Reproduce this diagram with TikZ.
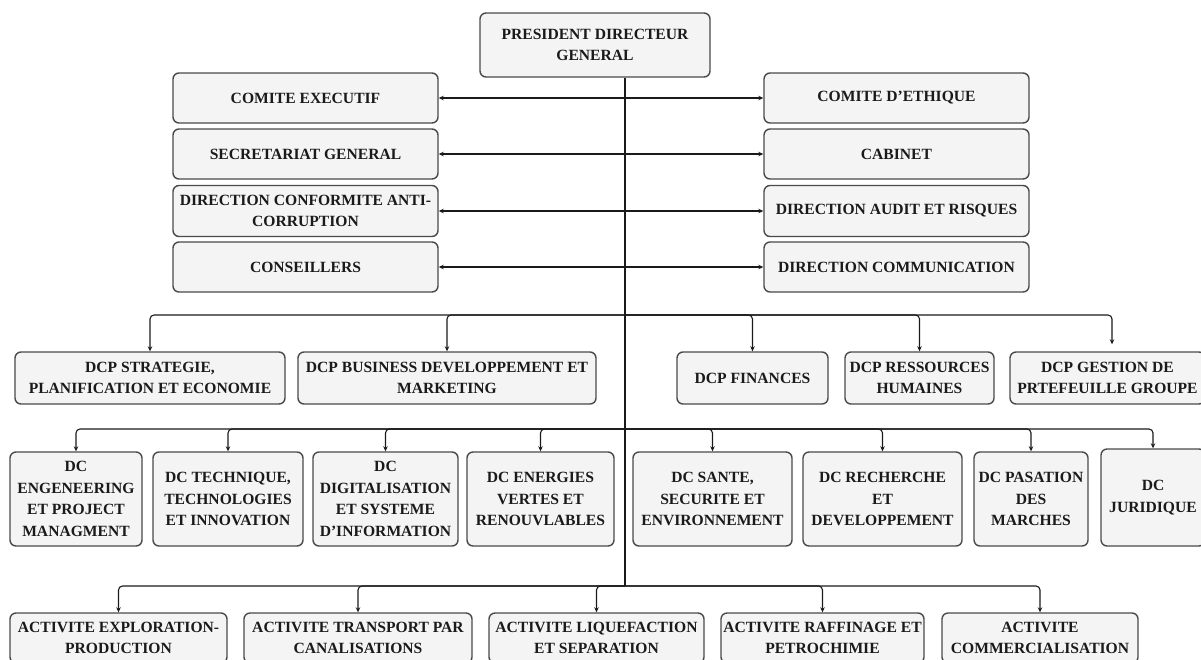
\documentclass[tikz,border=0pt]{standalone}
\usepackage{fontspec}
\setmainfont{Liberation Serif}
\usetikzlibrary{arrows.meta}
\definecolor{boxfill}{HTML}{F4F4F4}
\definecolor{boxline}{HTML}{4A4A4A}
\definecolor{ink}{HTML}{1A1A1A}
\begin{document}
\begin{tikzpicture}[x=1pt,y=-1pt,
  orgbox/.style={draw=boxline, fill=boxfill, line width=1.4pt, rounded corners=6pt,
    inner sep=0pt, align=center, text=ink,
    font=\bfseries\fontsize{15.6}{21.5}\selectfont},
  link/.style={draw=ink, line width=1.1pt, -{Stealth[length=5pt,width=4.5pt]}},
  drop/.style={link, rounded corners=4pt},
  biarrow/.style={draw=ink, line width=1.1pt,
    {Stealth[length=5pt,width=4.5pt]}-{Stealth[length=5pt,width=4.5pt]}},
  trunkline/.style={draw=ink, line width=1.1pt}]
\useasboundingbox (0,0) rectangle (1201,659);
% \orgnode{name}{cx}{cy}{width}{height}{text}
\newcommand\orgnode[6]{\node[orgbox, minimum width=#4pt, minimum height=#5pt] (#1) at (#2,#3) {#6};}

% top
\orgnode{pdg}{595}{45}{230}{64}{PRESIDENT DIRECTEUR\\GENERAL}

% staff bodies, left and right
\orgnode{l1}{305.5}{98}{265}{50}{COMITE EXECUTIF}
\orgnode{l2}{305.5}{154}{265}{50}{SECRETARIAT GENERAL}
\orgnode{l3}{305.5}{211}{265}{51}{DIRECTION CONFORMITE ANTI-\\CORRUPTION}
\orgnode{l4}{305.5}{267}{265}{50}{CONSEILLERS}
\orgnode{r1}{896.5}{98}{265}{50}{COMITE D'ETHIQUE}
\orgnode{r2}{896.5}{154}{265}{50}{CABINET}
\orgnode{r3}{896.5}{211}{265}{51}{DIRECTION AUDIT ET RISQUES}
\orgnode{r4}{896.5}{267}{265}{50}{DIRECTION COMMUNICATION}

% DCP level
\orgnode{s1}{150}{378}{270}{52}{DCP STRATEGIE,\\PLANIFICATION ET ECONOMIE}
\orgnode{s2}{447}{378}{298}{52}{DCP BUSINESS DEVELOPPEMENT ET\\MARKETING}
\orgnode{s3}{752.5}{378}{151}{52}{DCP FINANCES}
\orgnode{s4}{919.5}{378}{149}{52}{DCP RESSOURCES\\HUMAINES}
\orgnode{s5}{1107.5}{378}{195}{52}{DCP GESTION DE\\PRTEFEUILLE GROUPE}

% DC level
\orgnode{d1}{76}{499}{132}{94}{DC\\ENGENEERING\\ET PROJECT\\MANAGMENT}
\orgnode{d2}{228}{499}{150}{94}{DC TECHNIQUE,\\TECHNOLOGIES\\ET INNOVATION}
\orgnode{d3}{385.5}{499}{145}{94}{DC\\DIGITALISATION\\ET SYSTEME\\D'INFORMATION}
\orgnode{d4}{540.5}{499}{147}{94}{DC ENERGIES\\VERTES ET\\RENOUVLABLES}
\orgnode{d5}{712.5}{499}{159}{94}{DC SANTE,\\SECURITE ET\\ENVIRONNEMENT}
\orgnode{d6}{882.5}{499}{159}{94}{DC RECHERCHE\\ET\\DEVELOPPEMENT}
\orgnode{d7}{1031}{499}{114}{94}{DC PASATION\\DES\\MARCHES}
\orgnode{d8}{1153}{497.5}{104}{97}{DC\\JURIDIQUE}

% activities
\orgnode{a1}{118.5}{638}{217}{50}{ACTIVITE EXPLORATION-\\PRODUCTION}
\orgnode{a2}{358}{638}{228}{50}{ACTIVITE TRANSPORT PAR\\CANALISATIONS}
\orgnode{a3}{596.5}{638}{215}{50}{ACTIVITE LIQUEFACTION\\ET SEPARATION}
\orgnode{a4}{822.5}{638}{203}{50}{ACTIVITE RAFFINAGE ET\\PETROCHIMIE}
\orgnode{a5}{1040}{638}{196}{50}{ACTIVITE\\COMMERCIALISATION}

% trunk and bus points
\coordinate (busP) at (625,315);
\coordinate (busC) at (625,429);
\coordinate (busA) at (625,586);
\draw[trunkline] (pdg.south -| busA) -- (busA);

% staff links
\draw[biarrow] (l1.east) -- (r1.west);
\draw[biarrow] (l2.east) -- (r2.west);
\draw[biarrow] (l3.east) -- (r3.west);
\draw[biarrow] (l4.east) -- (r4.west);

% DCP links
\draw[drop] (busP) -| (s1.north);
\draw[drop] (busP) -| (s2.north);
\draw[drop] (busP) -| (s3.north);
\draw[drop] (busP) -| (s4.north);
\draw[drop, shorten >=7pt] (busP) -| ([xshift=4.5pt]s5.north);

% DC links
\foreach \n in {d1,d2,d3,d4,d5,d6,d7,d8}
  \draw[drop] (busC) -| (\n.north);

% activity links
\foreach \n in {a1,a2,a3,a4,a5}
  \draw[drop] (busA) -| (\n.north);
\end{tikzpicture}
\end{document}
